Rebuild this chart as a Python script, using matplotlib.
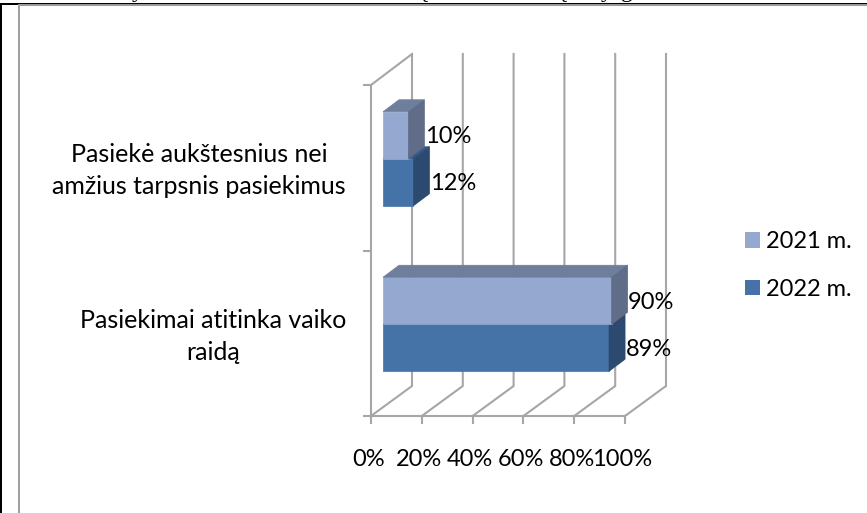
import matplotlib
matplotlib.use('Agg')
import matplotlib.pyplot as plt
from matplotlib.lines import Line2D
from matplotlib.patches import Polygon, Patch, Rectangle

W, H = 867, 513

# Dati
categories = ['Pasiekimai atitinka vaiko\nraidą', 'Pasiekė aukštesnius nei\namžius tarpsnis pasiekimus']
series_names = ['2021 m.', '2022 m.']
values_2021 = [90, 10]
values_2022 = [89, 12]
x_ticks = [0, 20, 40, 60, 80, 100]
x_tick_labels = ['0%', '20%', '40%', '60%', '80%', '100%']

plt.rcParams['font.family'] = ['Lato', 'DejaVu Sans']

GRID = '#a6a6a6'
TXT = '#000000'
FS = 17
FS_CAT = 18

fig = plt.figure(figsize=(W / 100, H / 100), dpi=100)
fig.patch.set_facecolor('white')

# Assi nel piano frontale del finto 3D
ax = fig.add_axes([371 / W, (H - 416) / H, 254 / W, 331 / H])
ax.set_xlim(0, 100)
ax.set_ylim(0, 2)
ax.axis('off')

ux = 100 / 254  # unita dati per pixel
uy = 2 / 331


def dpx(x, y, px, py):
    # Sposta un punto dati di (px, py) pixel
    return x + px * ux, y + py * uy


def line(xs, ys, **kw):
    ax.add_line(Line2D(xs, ys, color=GRID, lw=1.5, clip_on=False, **kw))


# Griglia: parete di fondo e pavimento
for t in x_ticks:
    bx, by = dpx(t, 0, 41, 30)
    line([t, bx, bx], [0, by, 2 + 31 * uy])
    line([t, t], [0, -7 * uy])
line([0, 0], [0, 2])
line([0, 100], [0, 0])
line([0, 41 * ux], [2, 2 + 31 * uy])
for c in [0, 1, 2]:
    line([-7 * ux, 0], [c, c])

FRONT = {'2021 m.': '#95a9d0', '2022 m.': '#4572a7'}
TOP = {'2021 m.': '#6e7f9c', '2022 m.': '#34598a'}
SIDE = {'2021 m.': '#5f6d89', '2022 m.': '#2c4a70'}
BAR_H = 47 * uy


def bar3d(val, y0, name):
    # Una barra con faccia frontale, superiore e laterale
    x0, y = dpx(0, y0, 12, 9)
    x1 = x0 + val
    d = (16 * ux, 12 * uy)
    ax.add_patch(Polygon([(x0, y), (x1, y), (x1, y + BAR_H), (x0, y + BAR_H)],
                         fc=FRONT[name], ec=FRONT[name], lw=0.5, clip_on=False, zorder=3))
    ax.add_patch(Polygon([(x0, y + BAR_H), (x1, y + BAR_H), (x1 + d[0], y + BAR_H + d[1]), (x0 + d[0], y + BAR_H + d[1])],
                         fc=TOP[name], ec=TOP[name], lw=0.5, clip_on=False, zorder=3))
    ax.add_patch(Polygon([(x1, y), (x1 + d[0], y + d[1]), (x1 + d[0], y + BAR_H + d[1]), (x1, y + BAR_H)],
                         fc=SIDE[name], ec=SIDE[name], lw=0.5, clip_on=False, zorder=3))
    ax.text(x1 + 16.5 * ux, y + BAR_H / 2 - 1.5 * uy, f'{val}%', fontsize=FS, color=TXT,
            ha='left', va='center', zorder=5, clip_on=False)


for i in range(len(categories)):
    bar3d(values_2022[i], i + 0.5 - BAR_H, '2022 m.')
    bar3d(values_2021[i], i + 0.5, '2021 m.')

# Etichette asse x
for t, lab in zip(x_ticks, x_tick_labels):
    ax.text(t - 1, -44 * uy, lab, fontsize=FS, color=TXT, ha='center', va='center', clip_on=False)

# Etichette categorie
cat_pos = [213, 199]
for i, cat in enumerate(categories):
    ax.text((cat_pos[i] - 371) * ux, i + 0.5 - 3 * uy, cat, fontsize=FS_CAT, color=TXT,
            ha='center', va='center', linespacing=1.45, clip_on=False)

# Legenda
handles = [Patch(fc=FRONT[n], ec='none') for n in series_names]
fig.legend(handles, series_names, loc='center left', bbox_to_anchor=(724 / W, 1 - 265.5 / H),
           frameon=False, fontsize=FS, handlelength=0.64, handleheight=0.64,
           handletextpad=0.22, labelspacing=1.13, borderpad=0.4)

# Cornice e resti del testo tagliato in alto
fig.add_artist(Rectangle((0, 1 - 3 / H), 1, 3 / H, fc='white', ec='none', transform=fig.transFigure, zorder=-1))
for px, s in [(138, 'y'), (422, 'ų'), (561, 'ų'), (607, 'y'), (627, 'g')]:
    fig.text(px / W, 1 + 3 / H, s, family='Liberation Serif', fontsize=17, color='black',
             ha='center', va='baseline', zorder=1)
fig.add_artist(Rectangle((0, 1 - 4.6 / H), 1, 1.6 / H, fc='black', ec='none', transform=fig.transFigure, zorder=4))
fig.add_artist(Rectangle((18 / W, 1 - 6 / H), 1 - 18 / W, 1.6 / H, fc='#999999', ec='none', transform=fig.transFigure, zorder=4))
fig.add_artist(Rectangle((17.5 / W, 0), 2 / W, 1 - 4.6 / H, fc='#a0a0a0', ec='none', transform=fig.transFigure, zorder=4))
fig.add_artist(Rectangle((0, 0), 1.5 / W, 1 - 3 / H, fc='black', ec='none', transform=fig.transFigure, zorder=4))

fig.savefig('out.png', dpi=100)
